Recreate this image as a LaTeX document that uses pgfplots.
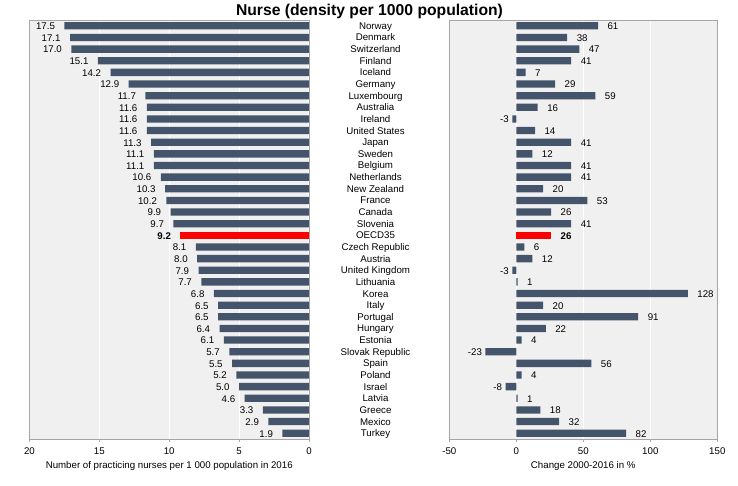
\documentclass[border=0pt]{standalone}
\usepackage{pgfplots}
\pgfplotsset{compat=1.18}
\usepackage{fontspec}
\setmainfont{Liberation Sans}
\definecolor{barblue}{HTML}{44546A}
\definecolor{bggray}{HTML}{F0F0F0}
\definecolor{framegray}{HTML}{A6A6A6}
\newcommand{\fs}{\fontsize{9.7}{11.5}\selectfont}
\begin{document}
\begin{tikzpicture}
\path[use as bounding box] (0pt,0pt) rectangle (738pt,-485pt);
\node[font=\bfseries\fontsize{15.7}{18}\selectfont, anchor=base] at (369.5pt,-15.5pt) {Nurse (density per 1000 population)};
\pgfplotsset{
  common/.style={
    scale only axis, height=419pt,
    xbar, bar width=7.3pt, bar shift=0pt,
    ymin=-0.5, ymax=35.5, y dir=reverse,
    axis background/.style={fill=bggray},
    axis line style={framegray},
    xmajorgrids, major grid style={white, line width=1pt},
    xtick pos=bottom, tick align=outside, major tick length=3pt,
    x tick style={framegray},
    y tick style={draw=none},
    /pgf/number format/assume math mode=true,
    tick label style={font=\fs},
    xticklabel style={yshift=-2pt},
    label style={font=\fs},
    point meta=x,
  },
}
% Left axis
\begin{axis}[common, at={(29.5pt,-439pt)}, anchor=south west, width=279.5pt,
  x dir=reverse, xmin=0, xmax=20, xtick={0,5,10,15,20}, ytick=\empty,
  xlabel={Number of practicing nurses per 1 000 population in 2016},
  nodes near coords={\pgfmathprintnumber[fixed,fixed zerofill,precision=1]{\pgfplotspointmeta}},
  every node near coord/.append style={anchor=east, xshift=-6pt, yshift=-0.5pt, font=\fs, text=black},
]
\addplot[fill=barblue, draw=none] coordinates {
(17.5,0) (17.1,1) (17.0,2) (15.1,3) (14.2,4) (12.9,5) (11.7,6) (11.6,7) (11.6,8) (11.6,9)
(11.3,10) (11.1,11) (11.1,12) (10.6,13) (10.3,14) (10.2,15) (9.9,16) (9.7,17)
(8.1,19) (8.0,20) (7.9,21) (7.7,22) (6.8,23) (6.5,24) (6.5,25) (6.4,26) (6.1,27)
(5.7,28) (5.5,29) (5.2,30) (5.0,31) (4.6,32) (3.3,33) (2.9,34) (1.9,35)
};
\addplot[fill=red, draw=none, every node near coord/.append style={font=\fs\bfseries}] coordinates {(9.2,18)};
\end{axis}
% Right axis
\begin{axis}[common, at={(449.3pt,-439pt)}, anchor=south west, width=268pt,
  xmin=-50, xmax=150, xtick={-50,0,50,100,150},
  ytick={0,...,35},
  yticklabels={Norway,Denmark,Switzerland,Finland,Iceland,Germany,Luxembourg,Australia,Ireland,United States,Japan,Sweden,Belgium,Netherlands,New Zealand,France,Canada,Slovenia,OECD35,Czech Republic,Austria,United Kingdom,Lithuania,Korea,Italy,Portugal,Hungary,Estonia,Slovak Republic,Spain,Poland,Israel,Latvia,Greece,Mexico,Turkey},
  yticklabel style={anchor=center, xshift=-70.8pt, yshift=-1pt, text height=7pt, text depth=2pt},
  xlabel={Change 2000-2016 in \%},
  nodes near coords={\pgfmathprintnumber[fixed,precision=0]{\pgfplotspointmeta}},
  every node near coord/.append style={anchor=west, xshift=6pt, yshift=-0.5pt, font=\fs, text=black},
]
\addplot[fill=barblue, draw=none] coordinates {
(61,0) (38,1) (47,2) (41,3) (7,4) (29,5) (59,6) (16,7) (14,9)
(41,10) (12,11) (41,12) (41,13) (20,14) (53,15) (26,16) (41,17)
(6,19) (12,20) (1,22) (128,23) (20,24) (91,25) (22,26) (4,27)
(56,29) (4,30) (1,32) (18,33) (32,34) (82,35)
};
\addplot[fill=barblue, draw=none, every node near coord/.append style={anchor=east, xshift=-6pt}] coordinates {
(-3,8) (-3,21) (-23,28) (-8,31)
};
\addplot[fill=red, draw=none, every node near coord/.append style={font=\fs\bfseries}] coordinates {(26,18)};
\end{axis}
\end{tikzpicture}
\end{document}
